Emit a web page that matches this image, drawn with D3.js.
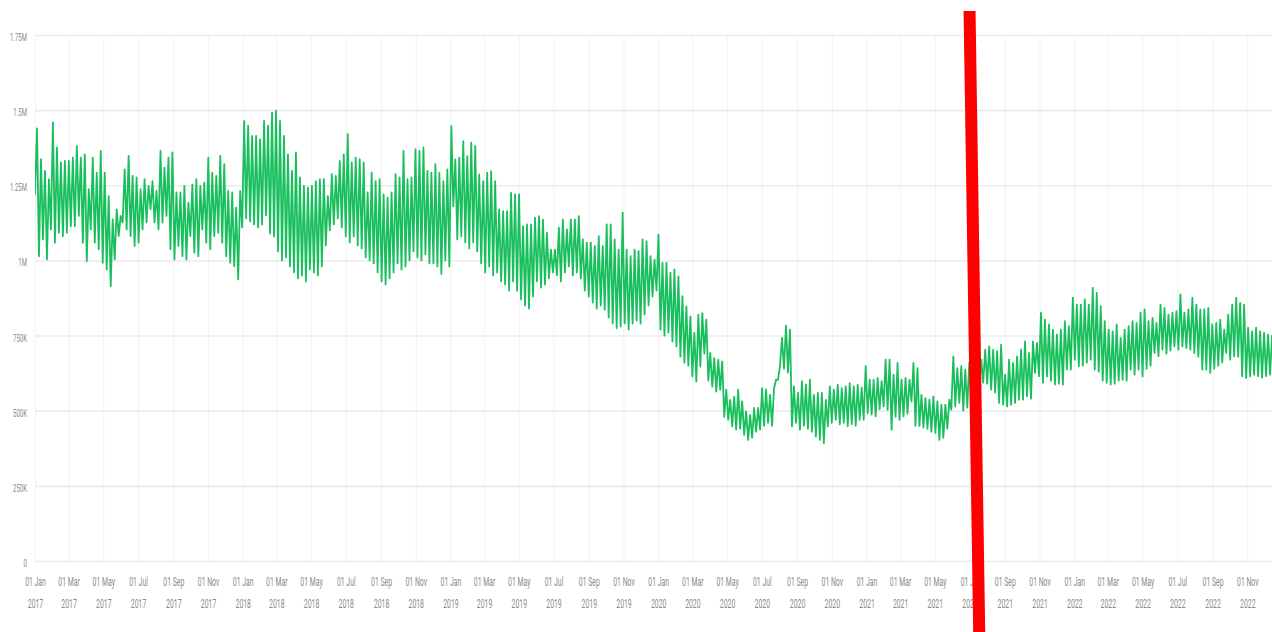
<!DOCTYPE html>
<html>
<head>
<meta charset="utf-8">
<script src="https://cdn.jsdelivr.net/npm/d3@7"></script>
<style>
  html, body { margin: 0; padding: 0; background: #fff; }
  svg { display: block; }
  .axis text { font-family: Roboto, 'Liberation Sans', sans-serif; fill: #8a8a8a; }
</style>
</head>
<body>
<svg id="chart" width="1272" height="632"></svg>
<script>
// weekly peaks (weekdays) and troughs (weekends), in thousands
const firstWeek = '2017-01-01';
const endDate = '2023-01-01';
const lastTick = '2022-12-31';

const high2017 = [1439, 1337, 1298, 1270, 1459, 1376, 1326, 1331, 1331, 1342, 1381, 1342, 1353, 1237, 1342, 1292, 1364, 1292, 1214, 1137, 1170, 1148, 1303, 1348, 1281, 1276, 1237, 1270, 1248, 1264, 1231, 1364, 1309, 1342, 1359, 1226, 1226, 1248, 1192, 1253, 1270, 1248, 1259, 1342, 1292, 1281, 1348, 1320, 1231, 1226, 1176, 1231];
const low2017 = [1220, 1014, 1070, 1003, 1103, 1059, 1092, 1081, 1092, 1114, 1114, 1148, 1059, 998, 1103, 1059, 1037, 992, 970, 914, 1003, 1081, 1126, 1103, 1081, 1048, 1059, 1103, 1126, 1170, 1126, 1103, 1126, 1148, 1037, 1003, 1048, 1014, 1003, 1081, 1026, 1014, 1103, 1059, 1037, 1081, 1092, 1059, 1014, 992, 981, 937];

const high2018 = [1464, 1448, 1414, 1414, 1403, 1464, 1448, 1492, 1498, 1464, 1414, 1353, 1298, 1359, 1276, 1248, 1242, 1248, 1264, 1270, 1270, 1214, 1287, 1281, 1331, 1353, 1420, 1326, 1342, 1337, 1326, 1226, 1292, 1264, 1270, 1220, 1209, 1226, 1287, 1276, 1364, 1270, 1276, 1370, 1364, 1376, 1298, 1292, 1320, 1292, 1264, 1303];
const low2018 = [1110, 1140, 1130, 1120, 1110, 1120, 1150, 1090, 1080, 1030, 1000, 1010, 980, 960, 940, 950, 930, 970, 960, 950, 980, 1050, 1100, 1120, 1140, 1110, 1080, 1060, 1080, 1050, 1040, 1010, 1000, 990, 960, 930, 920, 940, 960, 990, 970, 980, 1000, 1030, 1010, 1000, 1020, 990, 990, 980, 955, 1000];

const high2019 = [1447, 1336, 1342, 1397, 1347, 1392, 1381, 1286, 1264, 1292, 1297, 1264, 1170, 1164, 1164, 1225, 1220, 1220, 1114, 1120, 1120, 1142, 1147, 1136, 1092, 1036, 1036, 1109, 1136, 1103, 1136, 1136, 1147, 1070, 1059, 1059, 1048, 1081, 1048, 1120, 1120, 1070, 1036, 1159, 1036, 1014, 1036, 1031, 1070, 1064, 1014, 1003];
const low2019 = [980, 1180, 1070, 1080, 1060, 1040, 1060, 1030, 990, 960, 980, 950, 960, 930, 920, 900, 930, 900, 870, 850, 840, 880, 930, 910, 920, 940, 960, 950, 930, 960, 980, 950, 960, 940, 900, 880, 860, 840, 850, 836, 810, 790, 775, 780, 790, 770, 790, 800, 790, 820, 850, 880];

const high2020 = [1086, 992, 992, 959, 970, 947, 881, 847, 814, 759, 820, 825, 803, 692, 675, 670, 664, 570, 536, 547, 570, 531, 498, 486, 509, 509, 575, 570, 553, 575, 603, 742, 783, 770, 581, 559, 598, 587, 603, 553, 559, 559, 536, 581, 570, 587, 575, 581, 592, 581, 587, 577];
const low2020 = [900, 770, 750, 760, 730, 714, 680, 660, 650, 614, 597, 647, 690, 600, 580, 564, 570, 480, 470, 448, 437, 440, 420, 403, 410, 430, 437, 450, 460, 450, 603, 650, 640, 627, 448, 460, 437, 450, 440, 430, 414, 403, 392, 448, 460, 470, 455, 460, 449, 455, 450, 470];

const high2021 = [648, 603, 603, 609, 598, 670, 670, 620, 659, 603, 609, 603, 659, 642, 553, 542, 537, 548, 531, 520, 520, 537, 681, 642, 648, 637, 660, 625, 650, 670, 703, 714, 703, 698, 720, 620, 670, 659, 681, 703, 731, 692, 731, 726, 826, 803, 787, 770, 753, 770, 798, 781];
const low2021 = [470, 492, 487, 481, 505, 514, 503, 437, 480, 470, 481, 490, 530, 450, 449, 444, 440, 430, 426, 403, 410, 440, 503, 514, 526, 500, 510, 540, 570, 580, 593, 590, 570, 560, 526, 520, 514, 520, 526, 537, 537, 548, 540, 626, 615, 593, 614, 600, 587, 590, 587, 637];

const high2022 = [876, 853, 853, 870, 853, 909, 892, 848, 798, 770, 764, 787, 742, 770, 781, 798, 792, 826, 837, 798, 809, 792, 853, 842, 820, 826, 831, 887, 826, 837, 876, 853, 837, 837, 842, 787, 792, 803, 770, 820, 853, 876, 859, 853, 776, 764, 776, 764, 759, 753, 750, 755, 750];
const low2022 = [637, 670, 648, 650, 660, 670, 637, 630, 600, 593, 587, 590, 600, 603, 600, 637, 620, 637, 614, 640, 650, 692, 681, 703, 690, 700, 714, 703, 714, 708, 703, 692, 680, 637, 637, 626, 640, 650, 660, 692, 670, 681, 680, 614, 609, 614, 620, 615, 610, 615, 620, 615, 620];

const yTicks = [0, 250000, 500000, 750000, 1000000, 1250000, 1500000, 1750000];
const yTickLabels = ['0', '250K', '500K', '750K', '1M', '1.25M', '1.5M', '1.75M'];

// hand drawn red marker, top and bottom end
const markerDates = ['2021-07-01', '2021-07-18'];

const width = 1272;
const height = 632;
const plot = { left: 35, right: 1282, top: 35, bottom: 561 };
const squeeze = 0.55; // labels in the screenshot are horizontally squashed

const parse = d3.utcParse('%Y-%m-%d');
const t0 = parse(firstWeek);

const highs = [high2017, high2018, high2019, high2020, high2021, high2022].flat();
const lows = [low2017, low2018, low2019, low2020, low2021, low2022].flat();

// trough on the sunday, peak mid week
const points = [];
highs.forEach((h, i) => {
  const weekStart = d3.utcDay.offset(t0, i * 7);
  points.push({ date: weekStart, value: lows[i] * 1000 });
  points.push({ date: d3.utcHour.offset(weekStart, 84), value: h * 1000 });
});

const x = d3.scaleUtc()
  .domain([t0, parse(endDate)])
  .range([plot.left, plot.right]);

const y = d3.scaleLinear()
  .domain([0, 1750000])
  .range([plot.bottom, plot.top]);

const svg = d3.select('#chart');

svg.append('defs').append('clipPath')
  .attr('id', 'plot-clip')
  .append('rect')
  .attr('x', plot.left)
  .attr('y', 0)
  .attr('width', width - plot.left)
  .attr('height', height);

// x axis + vertical grid, every second month up to Nov 2022
const xAxis = svg.append('g')
  .attr('class', 'axis x-axis')
  .attr('transform', `translate(0,${plot.bottom})`)
  .call(
    d3.axisBottom(x)
      .tickValues(d3.utcMonth.every(2).range(t0, parse(lastTick)))
      .tickSize(-(plot.bottom - plot.top))
      .tickFormat(d3.utcFormat('%d %b'))
  );
xAxis.select('.domain').remove();
xAxis.selectAll('line').attr('stroke', '#f2f2f2').attr('stroke-width', 1);
xAxis.selectAll('text').each(function(d) {
  const t = d3.select(this);
  t.text(null)
    .attr('y', 0)
    .attr('dy', null)
    .attr('font-size', 12.5)
    .attr('transform', `scale(${squeeze},1)`);
  t.append('tspan').attr('x', 0).attr('y', 25).text(d3.utcFormat('%d %b')(d));
  t.append('tspan').attr('x', 0).attr('y', 47).text(d3.utcFormat('%Y')(d));
});

// y axis + horizontal grid
const yAxis = svg.append('g')
  .attr('class', 'axis y-axis')
  .attr('transform', `translate(${plot.left},0)`)
  .call(
    d3.axisLeft(y)
      .tickValues(yTicks)
      .tickSize(-(width - plot.left))
      .tickFormat((d, i) => yTickLabels[i])
  );
yAxis.select('.domain').remove();
yAxis.selectAll('line').attr('stroke', '#ebebeb').attr('stroke-width', 1.6);
yAxis.selectAll('text')
  .attr('font-size', 11)
  .attr('x', -8 / squeeze)
  .attr('dy', '0.5em')
  .attr('transform', `scale(${squeeze},1)`);

// the series
const line = d3.line()
  .x(d => x(d.date))
  .y(d => y(d.value));

svg.append('path')
  .datum(points)
  .attr('clip-path', 'url(#plot-clip)')
  .attr('fill', 'none')
  .attr('stroke', '#19bf5c')
  .attr('stroke-width', 1.8)
  .attr('stroke-linejoin', 'round')
  .attr('d', line);

// red annotation on top of everything
svg.append('line')
  .attr('x1', x(parse(markerDates[0])))
  .attr('y1', 11)
  .attr('x2', x(parse(markerDates[1])))
  .attr('y2', height)
  .attr('stroke', '#ff0000')
  .attr('stroke-width', 12);
</script>
</body>
</html>
